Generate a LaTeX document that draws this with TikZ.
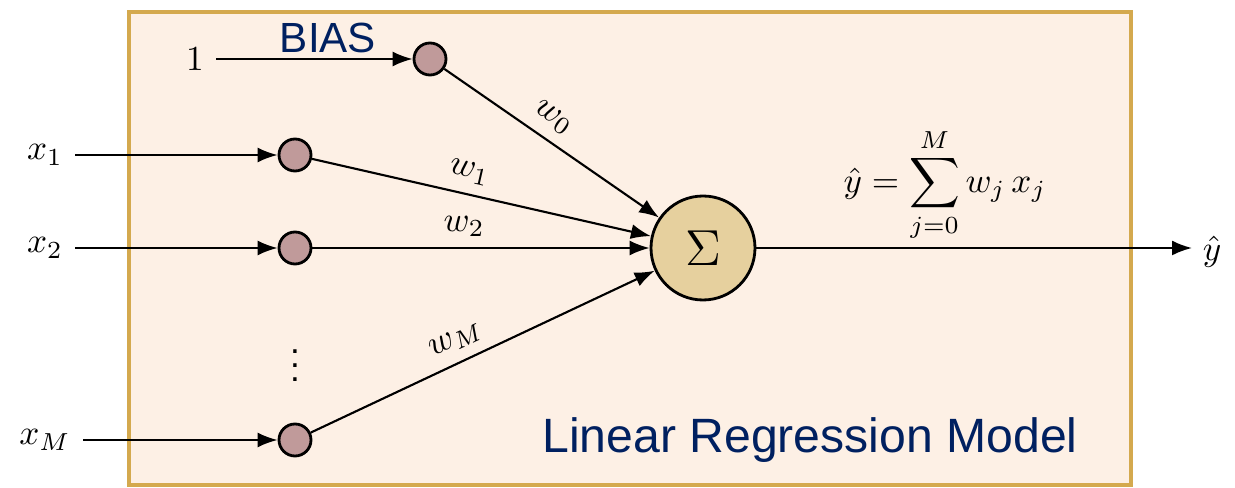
\documentclass[tikz,border=0pt]{standalone}
\usepackage{fontspec}
\setmainfont{Liberation Sans}
\usetikzlibrary{arrows.meta,calc,positioning}

\definecolor{boxfill}{HTML}{FDF0E5}
\definecolor{boxline}{HTML}{D4A94E}
\definecolor{inputfill}{HTML}{C09A9A}
\definecolor{sumfill}{HTML}{E6D09E}
\definecolor{navy}{HTML}{002060}

\tikzset{
  innode/.style={circle, draw, thick, fill=inputfill, minimum size=3.2mm, inner sep=0pt},
  sumnode/.style={circle, draw, thick, fill=sumfill, minimum size=10.4mm, inner sep=0pt},
  link/.style={-{Latex[length=2mm,width=1.5mm]}, semithick},
  wlabel/.style={sloped, above, pos=0.45, inner sep=3pt}
}

\begin{document}
\begin{tikzpicture}

\useasboundingbox (0,0) rectangle (12.35,4.88);

% Frame
\draw[boxline, line width=1.2pt, fill=boxfill] (1.29,0.03) rectangle (11.31,4.76);

% Nodes
\node[innode] (b)  at (4.30,4.29) {};
\node[innode] (n1) at (2.95,3.33) {};
\node[innode] (n2) at (2.95,2.40) {};
\node[innode] (nM) at (2.95,0.48) {};
\node at (2.95,1.33) {$\vdots$};
\node[sumnode] (s) at (7.03,2.40) {\Large$\Sigma$};

% Inputs
\node (one) at (1.95,4.29) {$1$};
\node (in1) at (0.45,3.33) {$x_1$};
\node (in2) at (0.45,2.40) {$x_2$};
\node (inM) at (0.45,0.48) {$x_M$};
\coordinate (out) at (11.92,2.40);
\node (yhat) at (12.12,2.36) {$\hat{y}$};

% Input arrows
\draw[link] (one) -- (b);
\draw[link] (in1) -- (n1);
\draw[link] (in2) -- (n2);
\draw[link] (inM) -- (nM);

% Weighted links
\draw[link] (b)  -- (s) node[wlabel] {$w_0$};
\draw[link] (n1) -- (s) node[wlabel] {$w_1$};
\draw[link] (n2) -- (s) node[wlabel] {$w_2$};
\draw[link] (nM) -- (s) node[wlabel] {$w_M$};

% Output
\draw[link] (s) -- (out);

% Labels
\node[navy, font=\fontsize{12}{14}\selectfont] at (3.28,4.50) {BIAS};
\node at (9.45,3.03) {$\displaystyle \hat{y} = \sum_{j=0}^{M} w_j\, x_j$};
\node[navy, font=\fontsize{13.7}{16}\selectfont] at (8.10,0.48) {Linear Regression Model};

\end{tikzpicture}
\end{document}
